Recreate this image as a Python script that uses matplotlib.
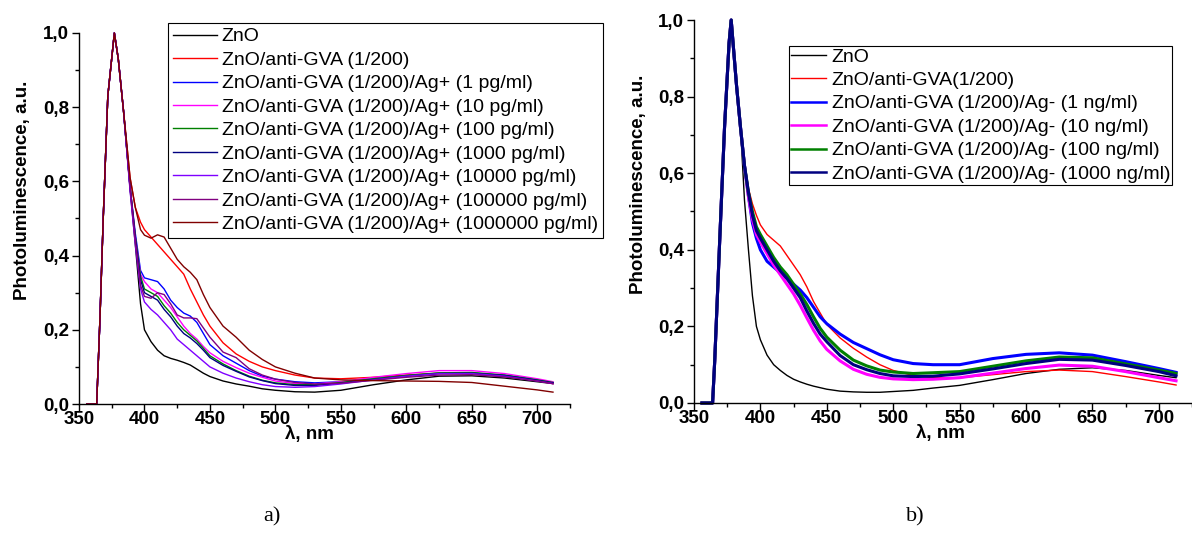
import matplotlib
matplotlib.use("Agg")
import matplotlib.pyplot as plt
from matplotlib.ticker import MultipleLocator, FuncFormatter

plt.rcParams["font.family"] = ["Liberation Sans", "DejaVu Sans"]

# ── Panel a) : Ag+ en pg/ml ─────────────────────────────────
WL_A = [356, 363.5, 366, 368.5, 372, 377, 380, 384, 389, 393, 397, 400, 405, 410,
        415, 420, 425, 430, 435, 440, 445, 450, 460, 470, 480, 490, 500, 515, 530,
        550, 575, 600, 625, 650, 675, 700, 712]
PEAK_A = [0, 0, 0.23, 0.50, 0.83, 1.0, 0.93, 0.79]

ZNO_A = PEAK_A + [0.58, 0.43, 0.27, 0.20, 0.168, 0.145, 0.13, 0.123, 0.118, 0.112, 0.105,
                  0.094, 0.083, 0.074, 0.062, 0.054, 0.048, 0.041, 0.037, 0.033, 0.032,
                  0.037, 0.052, 0.065, 0.075, 0.076, 0.070, 0.060, 0.055]
ANTI_A = PEAK_A + [0.61, 0.53, 0.49, 0.47, 0.45, 0.43, 0.41, 0.39, 0.37, 0.35, 0.31,
                   0.275, 0.24, 0.21, 0.165, 0.135, 0.115, 0.10, 0.09, 0.078, 0.07,
                   0.068, 0.072, 0.078, 0.083, 0.083, 0.075, 0.063, 0.055]
AG1_A = PEAK_A + [0.585, 0.46, 0.36, 0.34, 0.335, 0.33, 0.31, 0.28, 0.26, 0.245, 0.237,
                  0.22, 0.19, 0.16, 0.13, 0.11, 0.09, 0.075, 0.067, 0.06, 0.057,
                  0.06, 0.068, 0.076, 0.083, 0.084, 0.077, 0.065, 0.058]
AG10_A = PEAK_A + [0.585, 0.45, 0.35, 0.33, 0.31, 0.30, 0.28, 0.26, 0.235, 0.21, 0.19,
                   0.175, 0.155, 0.138, 0.115, 0.098, 0.083, 0.072, 0.062, 0.055, 0.054,
                   0.06, 0.072, 0.082, 0.09, 0.09, 0.082, 0.068, 0.06]
AG100_A = PEAK_A + [0.585, 0.45, 0.345, 0.31, 0.30, 0.29, 0.265, 0.245, 0.22, 0.20, 0.185,
                    0.17, 0.15, 0.13, 0.108, 0.09, 0.075, 0.064, 0.057, 0.052, 0.052,
                    0.058, 0.068, 0.077, 0.084, 0.085, 0.078, 0.065, 0.058]
AG1E3_A = PEAK_A + [0.585, 0.45, 0.335, 0.30, 0.29, 0.28, 0.255, 0.235, 0.21, 0.19, 0.178,
                    0.163, 0.145, 0.125, 0.104, 0.088, 0.073, 0.063, 0.055, 0.05, 0.05,
                    0.056, 0.066, 0.075, 0.082, 0.083, 0.077, 0.064, 0.057]
AG1E4_A = PEAK_A + [0.575, 0.43, 0.31, 0.275, 0.255, 0.24, 0.22, 0.20, 0.175, 0.16, 0.145,
                    0.13, 0.115, 0.10, 0.083, 0.07, 0.06, 0.052, 0.047, 0.045, 0.047,
                    0.054, 0.065, 0.075, 0.082, 0.082, 0.075, 0.062, 0.055]
AG1E5_A = PEAK_A + [0.585, 0.44, 0.32, 0.29, 0.285, 0.30, 0.295, 0.27, 0.24, 0.232, 0.232,
                    0.23, 0.205, 0.18, 0.14, 0.125, 0.095, 0.078, 0.067, 0.058, 0.054,
                    0.056, 0.064, 0.072, 0.078, 0.079, 0.073, 0.062, 0.055]
AG1E6_A = PEAK_A + [0.61, 0.53, 0.47, 0.455, 0.447, 0.456, 0.45, 0.42, 0.39, 0.37, 0.355,
                    0.335, 0.295, 0.26, 0.21, 0.18, 0.145, 0.12, 0.10, 0.083, 0.07,
                    0.065, 0.063, 0.062, 0.061, 0.058, 0.048, 0.038, 0.032]

LABELS_A = ["ZnO", "ZnO/anti-GVA (1/200)",
            "ZnO/anti-GVA (1/200)/Ag+ (1 pg/ml)",
            "ZnO/anti-GVA (1/200)/Ag+ (10 pg/ml)",
            "ZnO/anti-GVA (1/200)/Ag+ (100 pg/ml)",
            "ZnO/anti-GVA (1/200)/Ag+ (1000 pg/ml)",
            "ZnO/anti-GVA (1/200)/Ag+ (10000 pg/ml)",
            "ZnO/anti-GVA (1/200)/Ag+ (100000 pg/ml)",
            "ZnO/anti-GVA (1/200)/Ag+ (1000000 pg/ml)"]
COLORS_A = ["#000000", "#FF0000", "#0000FF", "#FF00FF", "#008000", "#000080",
            "#7F00FF", "#800080", "#800000"]

# ── Panel b) : Ag- en ng/ml ─────────────────────────────────
WL_B = [356, 364, 365.6, 369.3, 373, 376.4, 378, 382, 385, 388, 391, 394, 397, 400,
        405, 410, 415, 420, 425, 430, 435, 440, 445, 450, 460, 470, 480, 490, 500,
        515, 530, 550, 575, 600, 625, 650, 675, 700, 713]
PEAK_B = [0, 0, 0.11, 0.42, 0.72, 0.94, 1.0, 0.83, 0.72]

ZNO_B = PEAK_B + [0.53, 0.40, 0.28, 0.20, 0.165, 0.125, 0.10, 0.085, 0.072, 0.062, 0.055,
                  0.049, 0.044, 0.040, 0.036, 0.031, 0.029, 0.028, 0.028, 0.030, 0.033,
                  0.039, 0.046, 0.061, 0.077, 0.088, 0.092, 0.085, 0.072, 0.066]
ANTI_B = PEAK_B + [0.63, 0.56, 0.52, 0.49, 0.465, 0.44, 0.425, 0.41, 0.385, 0.36, 0.335,
                   0.303, 0.265, 0.235, 0.205, 0.17, 0.143, 0.12, 0.10, 0.085, 0.072,
                   0.066, 0.066, 0.074, 0.082, 0.086, 0.082, 0.069, 0.055, 0.047]
AG1_B = PEAK_B + [0.62, 0.54, 0.47, 0.43, 0.40, 0.37, 0.355, 0.34, 0.325, 0.31, 0.295,
                  0.275, 0.25, 0.225, 0.207, 0.18, 0.158, 0.142, 0.126, 0.113, 0.103,
                  0.10, 0.10, 0.116, 0.127, 0.131, 0.125, 0.108, 0.09, 0.08]
AG10_B = PEAK_B + [0.62, 0.54, 0.48, 0.44, 0.42, 0.39, 0.36, 0.335, 0.31, 0.285, 0.255,
                   0.222, 0.19, 0.162, 0.14, 0.11, 0.088, 0.075, 0.067, 0.063, 0.061,
                   0.062, 0.066, 0.078, 0.09, 0.099, 0.096, 0.082, 0.066, 0.058]
AG100_B = PEAK_B + [0.62, 0.55, 0.50, 0.46, 0.44, 0.41, 0.38, 0.355, 0.335, 0.31, 0.285,
                    0.257, 0.225, 0.195, 0.172, 0.138, 0.112, 0.097, 0.086, 0.081, 0.077,
                    0.079, 0.082, 0.096, 0.11, 0.12, 0.118, 0.102, 0.086, 0.077]
AG1000_B = PEAK_B + [0.62, 0.55, 0.49, 0.45, 0.43, 0.40, 0.37, 0.345, 0.325, 0.30, 0.275,
                     0.24, 0.208, 0.18, 0.16, 0.124, 0.10, 0.087, 0.077, 0.071, 0.069,
                     0.07, 0.076, 0.089, 0.103, 0.114, 0.112, 0.098, 0.082, 0.071]

LABELS_B = ["ZnO", "ZnO/anti-GVA(1/200)",
            "ZnO/anti-GVA (1/200)/Ag- (1 ng/ml)",
            "ZnO/anti-GVA (1/200)/Ag- (10 ng/ml)",
            "ZnO/anti-GVA (1/200)/Ag- (100 ng/ml)",
            "ZnO/anti-GVA (1/200)/Ag- (1000 ng/ml)"]
COLORS_B = ["#000000", "#FF0000", "#0000FF", "#FF00FF", "#008000", "#000080"]
WIDTHS_B = [1.0, 1.0, 2.2, 2.2, 2.2, 2.2]

X_TICKS = [350, 400, 450, 500, 550, 600, 650, 700]


def comma(v, pos):
    return f"{v:.1f}".replace(".", ",")


def style_axes(ax, xlab_x, ylab_x, ylab_y, xlab_y):
    ax.set_xlim(350, 725)
    ax.set_ylim(0, 1.0)
    ax.set_xticks(X_TICKS)
    ax.xaxis.set_minor_locator(MultipleLocator(25))
    ax.yaxis.set_major_locator(MultipleLocator(0.2))
    ax.yaxis.set_minor_locator(MultipleLocator(0.1))
    ax.yaxis.set_major_formatter(FuncFormatter(comma))
    ax.spines["top"].set_visible(False)
    ax.spines["right"].set_visible(False)
    for s in ("left", "bottom"):
        ax.spines[s].set_linewidth(1.0)
    ax.tick_params(which="major", direction="out", length=5, width=1, labelsize=13.5)
    ax.tick_params(axis="x", which="major", pad=0)
    ax.tick_params(axis="y", which="major", pad=2)
    ax.tick_params(which="minor", direction="out", length=3, width=1)
    for lab in ax.get_xticklabels() + ax.get_yticklabels():
        lab.set_fontweight("bold")
    ax.set_xlabel("λ, nm", fontsize=13.5, fontweight="bold")
    ax.set_ylabel("Photoluminescence, a.u.", fontsize=13.5, fontweight="bold")
    ax.xaxis.set_label_coords(xlab_x, xlab_y)
    ax.yaxis.set_label_coords(ylab_x, ylab_y)


fig = plt.figure(figsize=(11.92, 5.56), dpi=100)
ax_a = fig.add_axes([79 / 1192, 152 / 556, 491 / 1192, 371 / 556])
ax_b = fig.add_axes([694 / 1192, 153 / 556, 498 / 1192, 383 / 556])

series_a = [ZNO_A, ANTI_A, AG1_A, AG10_A, AG100_A, AG1E3_A, AG1E4_A, AG1E5_A, AG1E6_A]
for ys, lab, col in zip(series_a, LABELS_A, COLORS_A):
    ax_a.plot(WL_A, ys, color=col, linewidth=1.0, label=lab, clip_on=False)

series_b = [ZNO_B, ANTI_B, AG1_B, AG10_B, AG100_B, AG1000_B]
for ys, lab, col, lw in zip(series_b, LABELS_B, COLORS_B, WIDTHS_B):
    ax_b.plot(WL_B, ys, color=col, linewidth=lw, label=lab, clip_on=False)

style_axes(ax_a, 0.47, -0.098, 0.577, -0.06)
style_axes(ax_b, 0.494, -0.094, 0.57, -0.058)

leg_a = ax_a.legend(loc="upper left", bbox_to_anchor=(168 / 1192, 1 - 23 / 556),
                    bbox_transform=fig.transFigure, fontsize=14, frameon=True,
                    fancybox=False, edgecolor="black", framealpha=1,
                    handlelength=2.26, handletextpad=0.25, labelspacing=0.3,
                    borderpad=0.25, borderaxespad=0)
leg_a.get_frame().set_linewidth(0.8)
for line in leg_a.get_lines():
    line.set_linewidth(1.0)

leg_b = ax_b.legend(loc="upper left", bbox_to_anchor=(789 / 1192, 1 - 46 / 556),
                    bbox_transform=fig.transFigure, fontsize=14, frameon=True,
                    fancybox=False, edgecolor="black", framealpha=1,
                    handlelength=1.8, handletextpad=0.3, labelspacing=0.3,
                    borderpad=0.1, borderaxespad=0)
leg_b.get_frame().set_linewidth(0.8)
for line, lw in zip(leg_b.get_lines(), WIDTHS_B):
    line.set_linewidth(min(lw, 1.8))

fig.text(272 / 1192, 1 - 517 / 556, "a)", fontsize=16, family="Liberation Serif",
         ha="center", va="center")
fig.text(915 / 1192, 1 - 517 / 556, "b)", fontsize=16, family="Liberation Serif",
         ha="center", va="center")

fig.savefig("out.png", dpi=100)
